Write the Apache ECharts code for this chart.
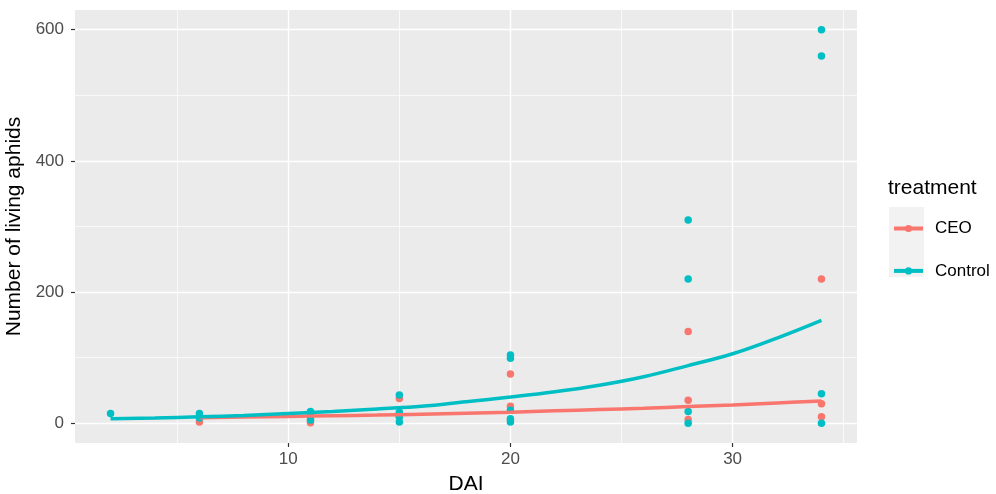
<!DOCTYPE html>
<html>
<head>
<meta charset="utf-8">
<script src="https://cdn.jsdelivr.net/npm/echarts@6/dist/echarts.min.js"></script>
<style>
  html, body { margin: 0; padding: 0; background: #ffffff; }
  #chart { width: 996px; height: 494px; }
</style>
</head>
<body>
<div id="chart"></div>
<script>
// Observed aphid counts per day after infestation (DAI)
const ceoPoints = [
  [6, 2], [11, 1], [11, 5], [15, 38], [15, 10],
  [20, 75], [20, 26], [20, 5],
  [28, 140], [28, 35], [28, 6],
  [34, 220], [34, 30], [34, 10]
];
const controlPoints = [
  [2, 15],
  [6, 15], [6, 8],
  [11, 18], [11, 12], [11, 5],
  [15, 43], [15, 17], [15, 10], [15, 2],
  [20, 104], [20, 99], [20, 20], [20, 7], [20, 2],
  [28, 310], [28, 220], [28, 18], [28, 0],
  [34, 600], [34, 560], [34, 45], [34, 0]
];

// Fitted trend for each treatment, sampled along DAI
const ceoFit = [
  [6, 8.5], [8, 9.5], [10, 10.5], [12, 11.5], [14, 12.5], [16, 14],
  [18, 15.5], [20, 17], [22, 19], [24, 21], [26, 23], [28, 25.5],
  [30, 28], [32, 31], [34, 34]
];
const controlFit = [
  [2, 7], [4, 8], [6, 10], [8, 12], [10, 15], [12, 18], [14, 22],
  [16, 26], [18, 33], [20, 40], [22, 48], [24, 58], [26, 71],
  [28, 88], [30, 106], [32, 130], [34, 157]
];

const xMajor = [10, 20, 30];
const xMinor = [5, 15, 25, 35];
const yMajor = [0, 200, 400, 600];
const yMinor = [100, 300, 500];

const RED = '#F8766D';
const CYAN = '#00BFC4';
const FONT = 'Liberation Sans, Arial, sans-serif';
const tickText = { color: '#4D4D4D', fontSize: 17, fontFamily: FONT };
const titleText = { color: '#000000', fontSize: 21, fontFamily: FONT };

const chart = echarts.init(document.getElementById('chart'), null, { renderer: 'canvas' });

const xRange = { min: 0.4, max: 35.6 };
const yRange = { min: -30, max: 630 };

chart.setOption({
  animation: false,
  backgroundColor: '#ffffff',
  grid: {
    left: 75, right: 139, top: 10, bottom: 51,
    containLabel: false, outerBoundsMode: 'none',
    show: true, backgroundColor: '#EBEBEB', borderWidth: 0
  },
  xAxis: [
    {
      type: 'value', ...xRange,
      name: 'DAI', nameLocation: 'middle', nameGap: 31, nameTextStyle: titleText,
      axisLine: { show: false, onZero: false },
      axisTick: { show: true, customValues: xMajor, length: 4, lineStyle: { color: '#333333', width: 1.2 } },
      axisLabel: { customValues: xMajor, margin: 8, ...tickText },
      splitLine: { show: true, lineStyle: { color: '#ffffff', width: 1.4 } }
    },
    {
      type: 'value', ...xRange, position: 'bottom',
      axisLine: { show: false, onZero: false },
      axisTick: { show: false, customValues: xMinor },
      axisLabel: { show: false, customValues: xMinor },
      splitLine: { show: true, lineStyle: { color: '#ffffff', width: 0.7 } }
    }
  ],
  yAxis: [
    {
      type: 'value', ...yRange,
      name: 'Number of living aphids', nameLocation: 'middle', nameGap: 43, nameTextStyle: titleText,
      axisLine: { show: false, onZero: false },
      axisTick: { show: true, customValues: yMajor, length: 4, lineStyle: { color: '#333333', width: 1.2 } },
      axisLabel: { customValues: yMajor, margin: 11, ...tickText },
      splitLine: { show: true, lineStyle: { color: '#ffffff', width: 1.4 } }
    },
    {
      type: 'value', ...yRange, position: 'left',
      axisLine: { show: false, onZero: false },
      axisTick: { show: false, customValues: yMinor },
      axisLabel: { show: false, customValues: yMinor },
      splitLine: { show: true, lineStyle: { color: '#ffffff', width: 0.7 } }
    }
  ],
  title: {
    text: 'treatment', left: 888, top: 178, padding: 0,
    textStyle: { ...titleText, fontWeight: 'normal' }
  },
  graphic: [
    { type: 'rect', left: 889, top: 207, shape: { width: 35, height: 70 }, style: { fill: '#F2F2F2' }, silent: true }
  ],
  legend: {
    data: ['CEO', 'Control'],
    orient: 'vertical', left: 892, top: 220, padding: 0,
    itemWidth: 29, itemHeight: 9, itemGap: 25.4,
    lineStyle: { width: 4 },
    textStyle: { color: '#000000', fontSize: 17, fontFamily: FONT, padding: [0, 0, 0, 7] },
    selectedMode: false
  },
  series: [
    {
      name: 'CEO', type: 'line', data: ceoFit, smooth: 0.4,
      xAxisIndex: 0, yAxisIndex: 0, z: 4,
      symbol: 'circle', symbolSize: 7, showSymbol: false,
      itemStyle: { color: RED }, lineStyle: { color: RED, width: 3.5 }
    },
    {
      name: 'Control', type: 'line', data: controlFit, smooth: 0.4,
      xAxisIndex: 0, yAxisIndex: 0, z: 5,
      symbol: 'circle', symbolSize: 7, showSymbol: false,
      itemStyle: { color: CYAN }, lineStyle: { color: CYAN, width: 3.5 }
    },
    {
      name: 'CEO', type: 'scatter', data: ceoPoints,
      xAxisIndex: 0, yAxisIndex: 0, z: 2,
      symbolSize: 7.5, itemStyle: { color: RED, opacity: 1 }
    },
    {
      name: 'Control', type: 'scatter', data: controlPoints,
      xAxisIndex: 0, yAxisIndex: 0, z: 3,
      symbolSize: 7.5, itemStyle: { color: CYAN, opacity: 1 }
    }
  ]
});
</script>
</body>
</html>
